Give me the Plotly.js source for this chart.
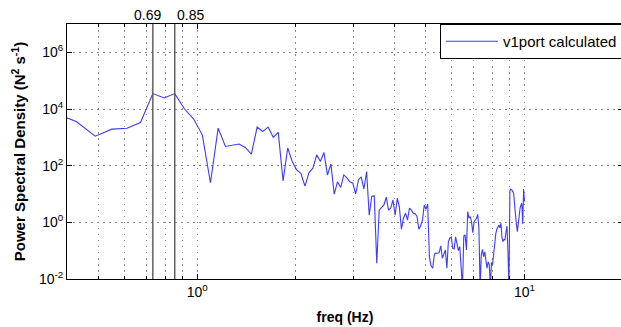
<!DOCTYPE html>
<html>
<head>
<meta charset="utf-8">
<script src="https://cdn.plot.ly/plotly-3.0.1.min.js"></script>
<style>
  html, body { margin: 0; padding: 0; background: #fff; overflow: hidden; }
  #chart { width: 623px; height: 327px; }
</style>
</head>
<body>
<div id="chart"></div>
<script>
// Spectrum sampling: bins start at bin 6, spaced 10/164 Hz apart
const firstBin = 6;
const binWidth = 10 / 164;

// Power spectral density per bin (N^2 s^-1), bins 6 .. 164
const psd = [
  7.4e3, 3.6e3, 1.1e3, 1.95e3, 2.1e3, 3.35e3, 3.5e4, 2.45e4, 3.5e4, 1.0e4,
  4.4e3, 1.2e3, 25, 2.1e3, 475, 520, 580, 440, 256, 2.3e3,
  1.6e3, 2.3e3, 1.0e3, 1.5e3, 29, 420, 140, 71, 54, 19,
  57, 82, 240, 140, 290, 47, 113, 9.9, 27, 17,
  47, 37, 27, 24, 10, 32, 40, 15, 62, 1.8,
  8.4, 8.6, 0.036, 2.7, 3.5, 4.1, 7.7, 2.7, 3.2, 6.2,
  1.8, 7.1, 3.5, 0.57, 1.4, 2.1, 1.2, 3.2, 2.7, 2.1,
  2.0, 1.6, 0.57, 0.75, 1.2, 4.1, 2.9, 4.4, 0.058, 0.029,
  0.024, 0.076, 0.083, 0.081, 0.085, 0.147, 0.054, 0.071, 0.106, 0.024,
  0.21, 0.28, 0.30, 0.12, 0.115, 0.31, 0.19, 0.10, 0.14, 0.04,
  0.005, 0.33, 0.36, 0.106, 2.4, 1.4, 1.6, 1.03, 0.43, 1.03,
  1.17, 1.4, 1.9, 0.64, 0.005, 0.071, 0.11, 0.062, 0.091, 0.04,
  0.024, 0.04, 0.032, 0.006, 0.038, 0.032, 0.091, 0.18, 0.39, 0.57,
  0.67, 0.81, 0.64, 0.93, 0.28, 0.21, 0.25, 0.24, 0.46, 0.74,
  0.091, 0.005, 13, 15, 14, 12, 10.7, 4.1, 1.2, 0.81,
  0.47, 1.03, 2.4, 3.2, 4.1, 4.7, 0.88, 15, 5.4
];
const freq = psd.map((_, i) => (firstBin + i) * binWidth);

// Marked peaks: bins 12 and 14, with their printed labels
const peakBins = [12, 14];
const peakLabels = ['0.69', '0.85'];
const peakLabelShift = [-5, 16];

// Axis ticks
const xMajor = [1, 10];
const xMajorText = ['10<sup>0</sup>', '10<sup>1</sup>'];
const xMinor = [0.4, 0.5, 0.6, 0.7, 0.8, 0.9, 2, 3, 4, 5, 6, 7, 8, 9, 20];
const yMajor = [1e-2, 1, 1e2, 1e4, 1e6];
const yMajorText = ['10<sup>-2</sup>', '10<sup>0</sup>', '10<sup>2</sup>', '10<sup>4</sup>', '10<sup>6</sup>'];

const FONT = 'Liberation Sans, Arial, Helvetica, sans-serif';
const gridColor = '#8c8c8c';
const gridDash = '1.5px,4.5px';

const peakFreqs = peakBins.map(b => b * binWidth);

const shapes = peakFreqs.map(f => ({
  type: 'line', xref: 'x', yref: 'paper',
  x0: f, x1: f, y0: 0, y1: 1,
  line: { color: '#555555', width: 1.4 }
}));

const annotations = peakFreqs.map((f, i) => ({
  xref: 'x', yref: 'paper',
  x: Math.log10(f), y: 1,
  xanchor: 'center', yanchor: 'bottom',
  xshift: peakLabelShift[i], yshift: -1,
  text: peakLabels[i], showarrow: false,
  font: { family: FONT, size: 14, color: '#000' }
}));

const trace = {
  x: freq, y: psd,
  type: 'scatter', mode: 'lines',
  name: 'v1port calculated',
  line: { color: 'rgb(60,60,255)', width: 1.1 }
};

const layout = {
  width: 623, height: 327,
  margin: { l: 67, r: 0, t: 24, b: 48 },
  paper_bgcolor: '#fff', plot_bgcolor: '#fff',
  font: { family: FONT, size: 14, color: '#000' },
  showlegend: true,
  legend: {
    x: 1, xanchor: 'right', y: 1, yanchor: 'top',
    bgcolor: '#fff', bordercolor: '#000', borderwidth: 1,
    itemwidth: 52,
    font: { family: FONT, size: 15, color: '#000' }
  },
  xaxis: {
    type: 'log',
    range: [Math.log10(0.4), Math.log10(20)],
    tickmode: 'array', tickvals: xMajor, ticktext: xMajorText,
    ticks: 'inside', ticklen: 5, tickcolor: '#000', tickwidth: 1,
    showline: true, linecolor: '#000', linewidth: 1, mirror: 'ticks',
    showgrid: true, gridcolor: gridColor, griddash: gridDash, gridwidth: 1,
    zeroline: false,
    tickfont: { family: FONT, size: 14 },
    minor: {
      tickmode: 'array', tickvals: xMinor,
      ticks: 'inside', ticklen: 3, tickcolor: '#000',
      showgrid: true, gridcolor: gridColor, griddash: gridDash, gridwidth: 1
    },
    title: { text: '<b>freq (Hz)</b>', font: { family: FONT, size: 14 }, standoff: 13 }
  },
  yaxis: {
    type: 'log',
    range: [-2, 7],
    tickmode: 'array', tickvals: yMajor, ticktext: yMajorText,
    ticks: 'inside', ticklen: 5, tickcolor: '#000', tickwidth: 1,
    showline: true, linecolor: '#000', linewidth: 1, mirror: 'ticks',
    showgrid: true, gridcolor: gridColor, griddash: gridDash, gridwidth: 1,
    zeroline: false,
    tickfont: { family: FONT, size: 14 },
    title: { text: '<b>Power Spectral Density (N<sup>2</sup> s<sup>-1</sup>)</b>', font: { family: FONT, size: 15 }, standoff: 9 }
  },
  shapes: shapes,
  annotations: annotations
};

Plotly.newPlot('chart', [trace], layout, { displayModeBar: false, staticPlot: true });
</script>
</body>
</html>
